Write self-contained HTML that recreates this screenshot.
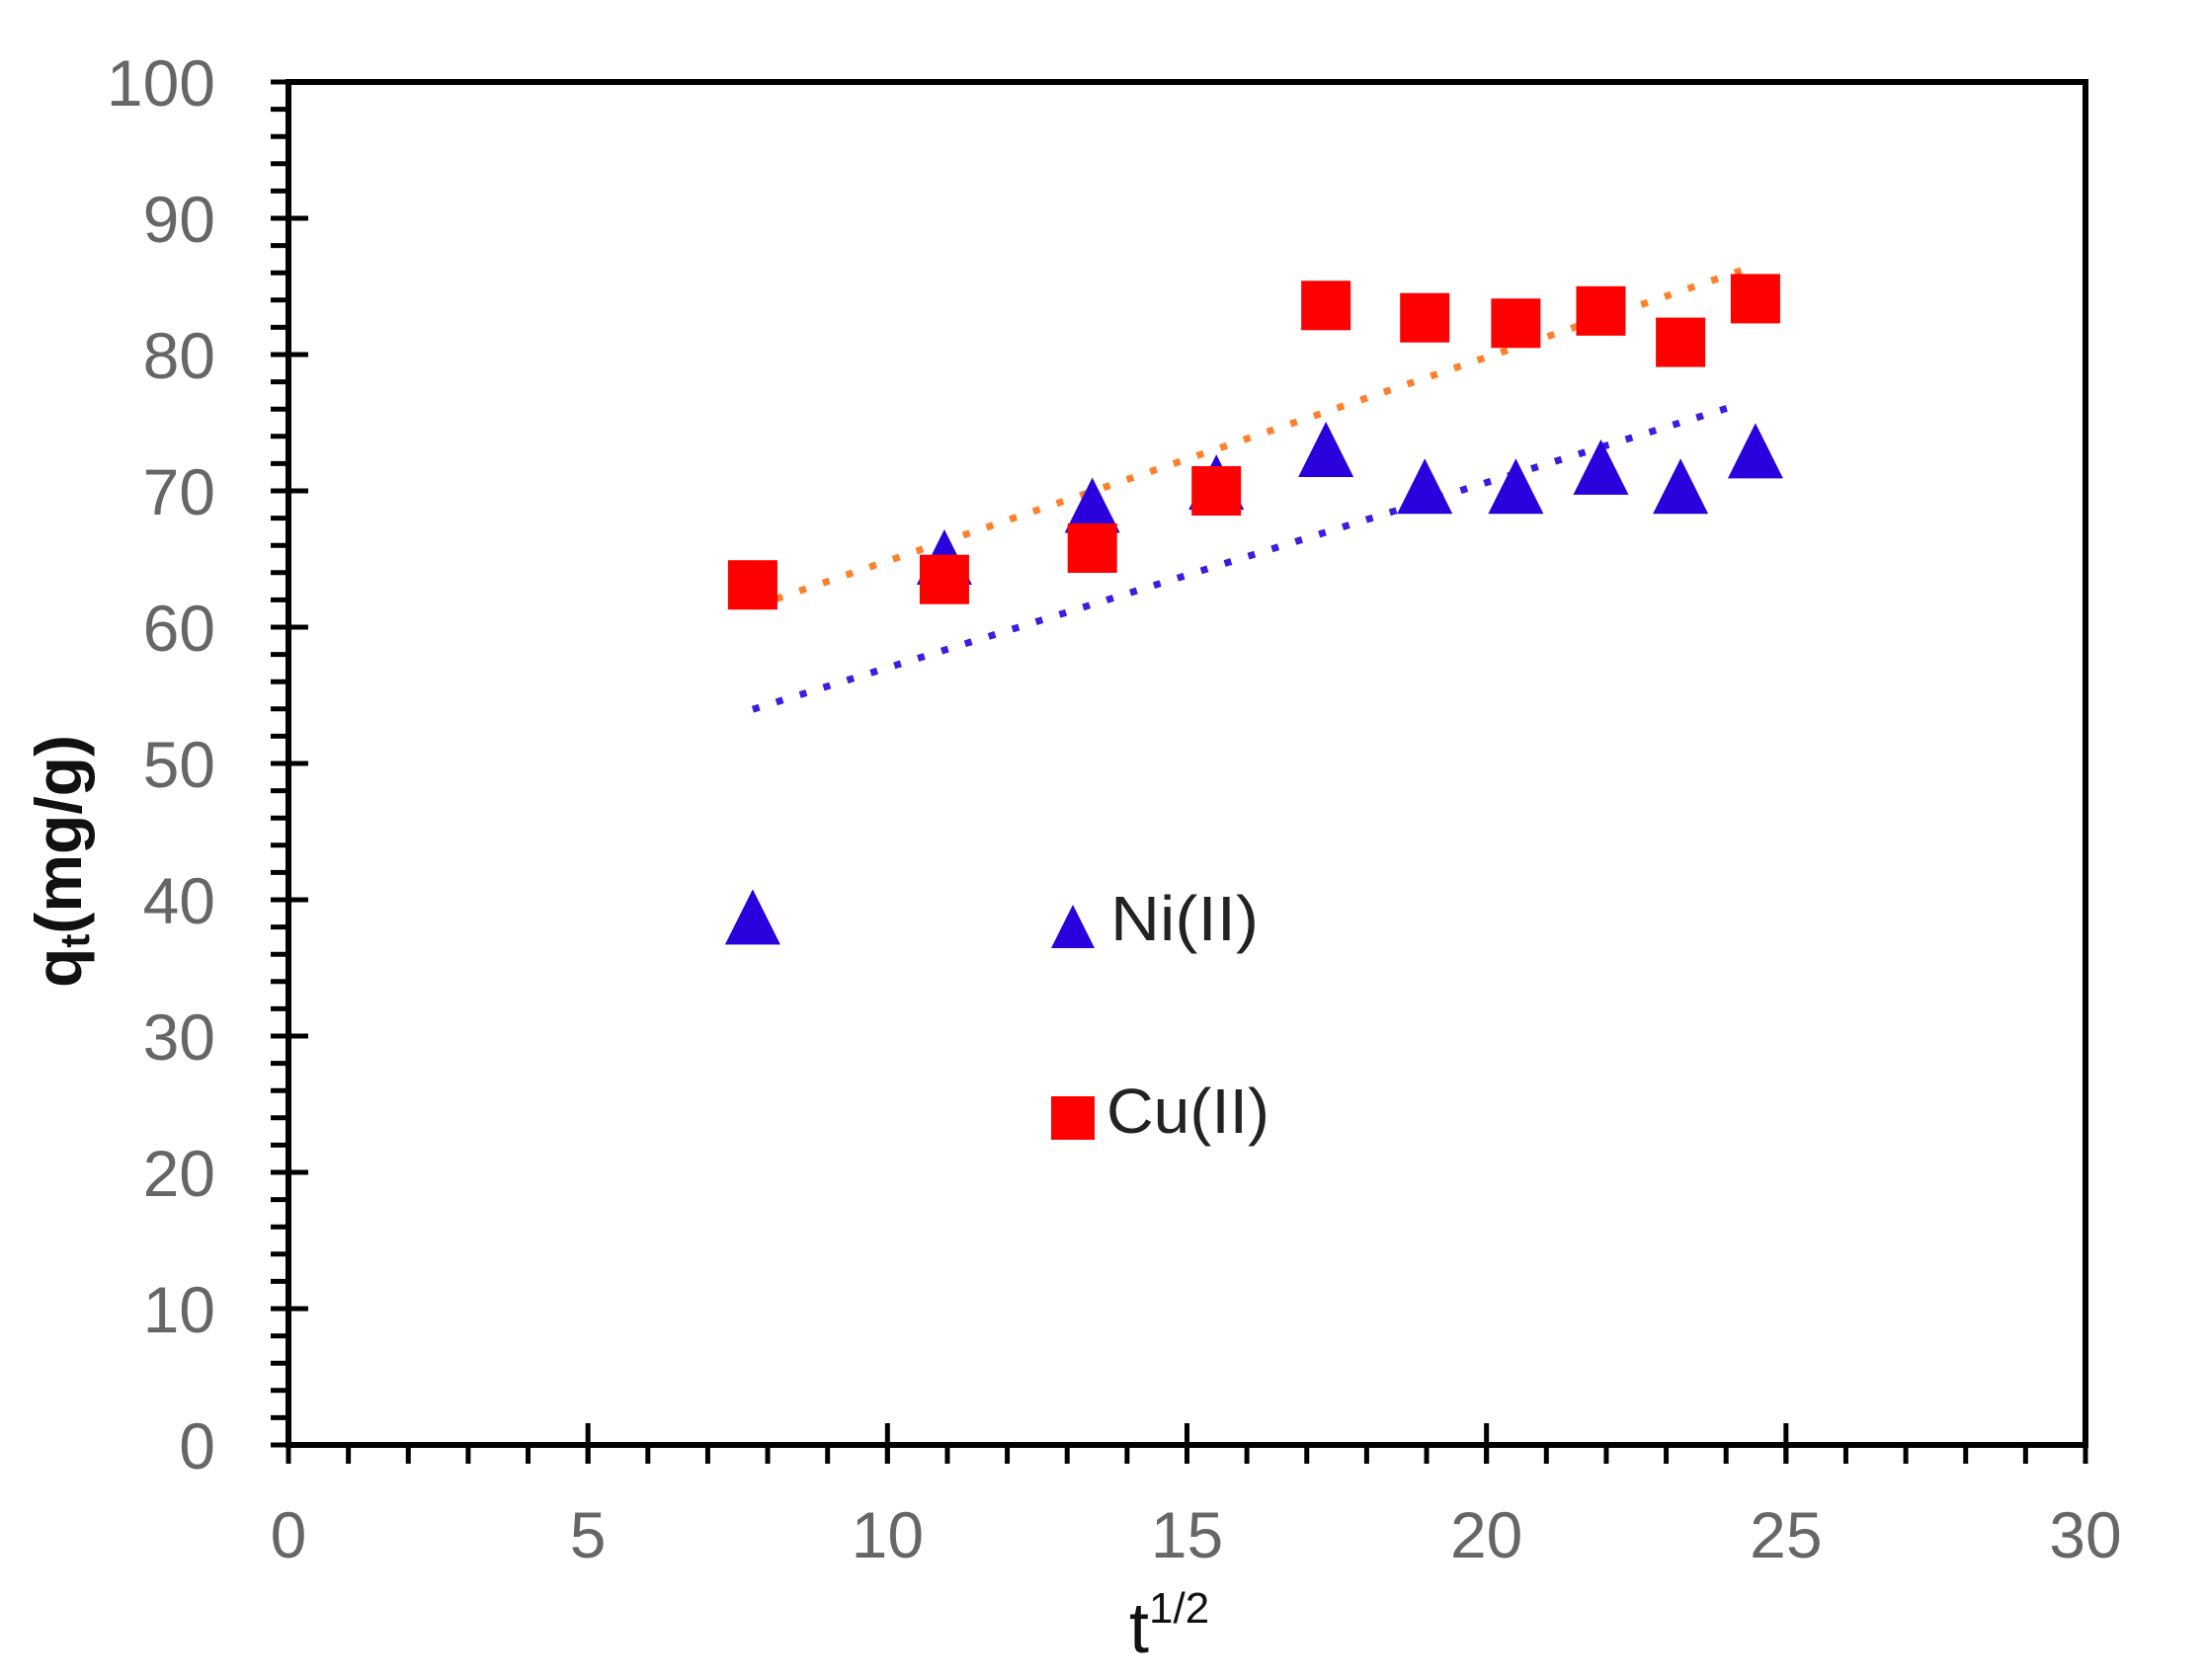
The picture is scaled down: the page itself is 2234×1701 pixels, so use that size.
<!DOCTYPE html>
<html><head><meta charset="utf-8"><style>
html,body{margin:0;padding:0;background:#fff;width:2234px;height:1701px;overflow:hidden}
svg{display:block}
</style></head><body>
<svg id="chart" width="2234" height="1701" viewBox="0 0 2234 1701" xmlns="http://www.w3.org/2000/svg">
<g id="axes"></g>
<g id="lines"></g>
<g id="marks"></g>
<g id="legend">
  <polygon points="1086,916 1064,960 1108,960" fill="#2a00dc"/>
  <text x="1124" y="952" font-family="Liberation Sans, sans-serif" font-size="64" fill="#222" textLength="150" lengthAdjust="spacingAndGlyphs">Ni(II)</text>
  <rect x="1064" y="1110" width="44" height="44" fill="#ff0000"/>
  <text x="1120" y="1147" font-family="Liberation Sans, sans-serif" font-size="64" fill="#222" textLength="165" lengthAdjust="spacingAndGlyphs">Cu(II)</text>
</g>
<text transform="translate(82,872) rotate(-90)" text-anchor="middle" font-family="Liberation Sans, sans-serif" font-weight="bold" font-size="66" fill="#111">q<tspan font-size="42" dy="8">t</tspan><tspan dy="-8">(mg/g)</tspan></text>
<text x="1143" y="1673" font-family="Liberation Sans, sans-serif" font-size="72" fill="#111">t<tspan font-size="44" dy="-30">1/2</tspan></text>
</svg>
<script>
const xCats = [7.75, 10.95, 13.42, 15.49, 17.32, 18.97, 20.49, 21.91, 23.24, 24.49];
const cuValues = [63.1, 63.5, 65.8, 70.0, 83.6, 82.7, 82.3, 83.2, 80.9, 84.1];
const niValues = [38.6, 65.0, 68.8, 70.5, 72.9, 70.2, 70.2, 71.6, 70.2, 72.8];
const xTicks = [0, 5, 10, 15, 20, 25, 30];
const yTicks = [0, 10, 20, 30, 40, 50, 60, 70, 80, 90, 100];

const NS = 'http://www.w3.org/2000/svg';
const X0 = 292, X1 = 2111, Y0 = 1463, Y1 = 83;
const xs = v => X0 + (v - 0) / 30 * (X1 - X0);
const ys = v => Y0 - (v - 0) / 100 * (Y0 - Y1);
function mk(tag, attrs, parent) {
  const e = document.createElementNS(NS, tag);
  for (const k in attrs) e.setAttribute(k, attrs[k]);
  parent.appendChild(e);
  return e;
}
const axes = document.getElementById('axes');
const frame = mk('rect', {x: X0, y: Y1, width: X1 - X0, height: Y0 - Y1, fill: 'none', stroke: '#000', 'stroke-width': 6}, axes);


// y minor ticks every 2
for (let v = 0; v <= 100; v += 2) {
  const t = mk('line', {x1: X0 - 18, x2: X0, y1: ys(v), y2: ys(v), stroke: '#000', 'stroke-width': 5}, axes);
  
  
}
yTicks.forEach(v => {
  const t = mk('line', {x1: X0 - 18, x2: X0 + 20, y1: ys(v), y2: ys(v), stroke: '#000', 'stroke-width': 5}, axes);
  
  
  const l = mk('text', {x: 218, y: ys(v) + 24, 'text-anchor': 'end', 'font-family': 'Liberation Sans, sans-serif', 'font-size': 66, fill: '#666'}, axes);
  l.textContent = v;
  
  
});
for (let v = 0; v <= 30; v += 1) {
  const t = mk('line', {x1: xs(v), x2: xs(v), y1: Y0, y2: Y0 + 19, stroke: '#000', 'stroke-width': 5}, axes);
  
  
}
xTicks.forEach(v => {
  const t = mk('line', {x1: xs(v), x2: xs(v), y1: Y0 - 22, y2: Y0 + 19, stroke: '#000', 'stroke-width': 5}, axes);
  
  
  const l = mk('text', {x: xs(v), y: 1577, 'text-anchor': 'middle', 'font-family': 'Liberation Sans, sans-serif', 'font-size': 66, fill: '#666'}, axes);
  l.textContent = v;
  
  
});
function fit(xv, yv) {
  const n = xv.length;
  const mx = xv.reduce((a, b) => a + b, 0) / n, my = yv.reduce((a, b) => a + b, 0) / n;
  let sxy = 0, sxx = 0;
  for (let i = 0; i < n; i++) { sxy += (xv[i] - mx) * (yv[i] - my); sxx += (xv[i] - mx) ** 2; }
  const b = sxy / sxx; return [my - b * mx, b];
}
const lines = document.getElementById('lines');
const xa = xCats[0], xb = xCats[xCats.length - 1];
const [ca, cb] = fit(xCats, cuValues);
const cuLine = mk('line', {x1: xs(xa), y1: ys(ca + cb * xa), x2: xs(xb), y2: ys(ca + cb * xb), stroke: '#ff7f2a', 'stroke-width': 7, 'stroke-dasharray': '7 18'}, lines);


const [na, nb] = fit(xCats, niValues);
const niLine = mk('line', {x1: xs(xa), y1: ys(na + nb * xa), x2: xs(xb - 0.2), y2: ys(na + nb * (xb - 0.2)), stroke: '#3a1ee0', 'stroke-width': 7, 'stroke-dasharray': '7 18'}, lines);


const marks = document.getElementById('marks');
xCats.forEach((x, i) => {
  const cx = xs(x), cy = ys(niValues[i]);
  const tri = mk('polygon', {points: `${cx},${cy - 30} ${cx - 28},${cy + 26} ${cx + 28},${cy + 26}`, fill: '#2a00dc'}, marks);
  
  
});
xCats.forEach((x, i) => {
  const cx = xs(x), cy = ys(cuValues[i]);
  const sq = mk('rect', {x: cx - 25, y: cy - 25, width: 50, height: 50, fill: '#ff0000'}, marks);
  
  
});
</script>
</body></html>
